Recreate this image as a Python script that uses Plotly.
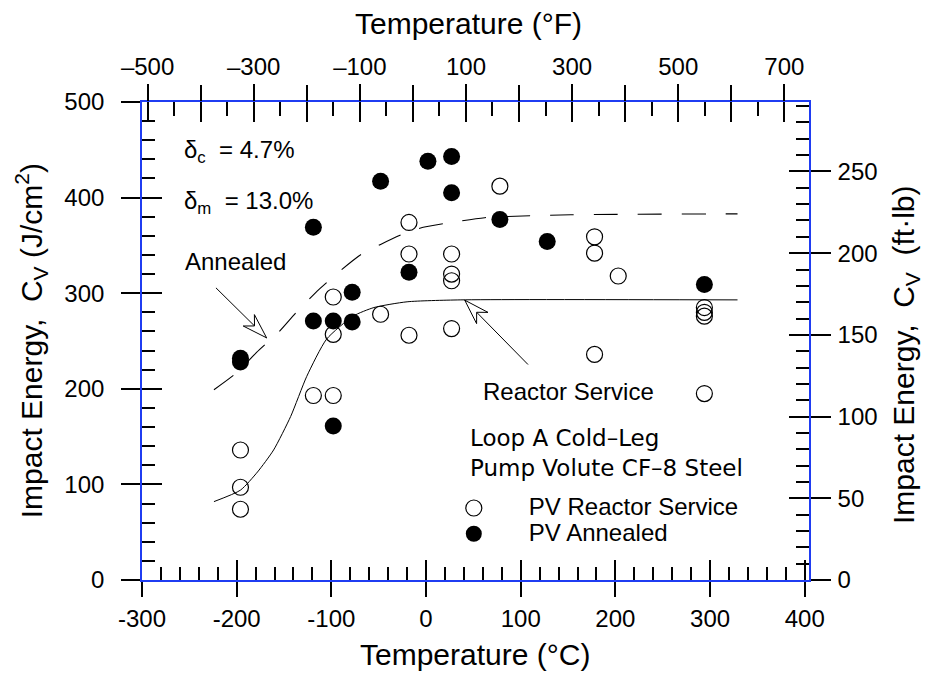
import plotly.graph_objects as go

# ---------------- data ----------------
# PV Reactor Service (open circles)
rs_temp_c = [-196, -196, -196, -119, -98, -98, -98, -48, -18, -18, -18,
             27, 27, 27, 27, 78, 178, 178, 178, 203, 294, 294, 294, 294]
rs_cv = [136, 97, 74, 193, 193, 257, 296, 278, 374, 341, 256,
         341, 320, 313, 263, 412, 359, 342, 236, 318, 285, 280, 276, 195]

# PV Annealed (filled circles)
an_temp_c = [-196, -196, -119, -119, -98, -98, -78, -78, -48, -18, 2, 27, 27, 78, 128, 294]
an_cv = [232, 228, 369, 271, 271, 161, 301, 270, 417, 322, 438, 443, 405, 377, 354, 309]

# Reactor service trend curve (solid)
rs_fit_temp_c = [-224, -196, -178, -161, -143, -126, -105, -77, -55, -20, 36, 329]
rs_fit_cv = [82, 94, 113, 136, 171, 213, 252, 276, 285, 291, 293, 293]

# Annealed trend curve (dashed)
an_fit_temp_c = [-224, -201, -179, -155, -137, -113, -90, -68, -48, -24, -3, 20, 62, 153, 329]
an_fit_cv = [199, 216, 238, 260, 280, 304, 324, 341, 351, 362, 369, 373, 379, 382, 383]

# tick labels
c_tick_vals = [-300, -200, -100, 0, 100, 200, 300, 400]
c_tick_text = ["-300", "-200", "-100", "0", "100", "200", "300", "400"]
f_label_vals = [-500, -300, -100, 100, 300, 500, 700]
f_label_text = ["\u2013500", "\u2013300", "\u2013100", "100", "300", "500", "700"]
f_tick_vals = [-500, -400, -300, -200, -100, 0, 100, 200, 300, 400, 500, 600, 700]
j_tick_vals = [0, 100, 200, 300, 400, 500]
j_tick_text = ["0", "100", "200", "300", "400", "500"]
ft_tick_vals = [0, 50, 100, 150, 200, 250]
ft_tick_text = ["0", "50", "100", "150", "200", "250"]

# ---------------- styling ----------------
C_RANGE = [-300, 404.5]
F_RANGE = [-510.5, 746.5]
J_RANGE = [0, 500]
FT_RANGE = [0, 292.5]

BLUE = "#1f3cf2"
FONT = "Liberation Sans, Arial, Helvetica, sans-serif"
TICKFONT = dict(family=FONT, size=24, color="black")
TW = 1.5

fig = go.Figure()

fig.add_trace(go.Scatter(x=an_fit_temp_c, y=an_fit_cv, mode="lines",
                         line=dict(color="black", width=1.1, dash="24px,20px", shape="spline", smoothing=0.6),
                         showlegend=False, hoverinfo="skip"))
fig.add_trace(go.Scatter(x=rs_fit_temp_c, y=rs_fit_cv, mode="lines",
                         line=dict(color="black", width=1.0, shape="spline", smoothing=0.6),
                         showlegend=False, hoverinfo="skip"))
fig.add_trace(go.Scatter(x=rs_temp_c, y=rs_cv, mode="markers",
                         name="<span style='font-size:24px'>PV Reactor Service</span>",
                         marker=dict(symbol="circle-open", size=16, color="black", line=dict(width=1.2, color="black"))))
fig.add_trace(go.Scatter(x=an_temp_c, y=an_cv, mode="markers",
                         name="<span style='font-size:24px'>PV Annealed</span>",
                         marker=dict(symbol="circle", size=17, color="black", line=dict(width=0))))

# empty traces so every overlay axis gets drawn
for xa, ya in [("x2", "y"), ("x3", "y"), ("x4", "y"), ("x5", "y"), ("x", "y2"), ("x", "y3"), ("x", "y4")]:
    fig.add_trace(go.Scatter(x=[], y=[], xaxis=xa, yaxis=ya, showlegend=False, hoverinfo="skip"))

common = dict(showgrid=False, zeroline=False, tickcolor="black", tickwidth=TW)

fig.update_layout(
    width=933, height=675,
    margin=dict(l=134, r=131.5, t=94.3, b=102.5, pad=0),
    paper_bgcolor="white", plot_bgcolor="white",
    font=dict(family=FONT, color="black"),
    # bottom (deg C) with labels and outer half of major ticks
    xaxis=dict(range=C_RANGE, tickmode="array", tickvals=c_tick_vals, ticktext=c_tick_text,
               ticks="outside", ticklen=15, showline=True, linecolor=BLUE, linewidth=1.6,
               tickfont=TICKFONT, ticklabelstandoff=1, **common),
    # bottom inner ticks
    xaxis3=dict(range=C_RANGE, overlaying="x", anchor="y", side="bottom", tickmode="linear", tick0=-300, dtick=100,
                ticks="inside", ticklen=20, showticklabels=False, showline=False,
                minor=dict(tickmode="linear", tick0=-300, dtick=20, ticks="inside", ticklen=13,
                           tickwidth=TW, tickcolor="black", showgrid=False), **common),
    # top (deg F): labels
    xaxis2=dict(range=F_RANGE, overlaying="x", anchor="y", side="top", tickmode="array", tickvals=f_label_vals,
                ticktext=f_label_text, ticks="outside", ticklen=16, showline=True, linecolor=BLUE, linewidth=1.6,
                tickfont=TICKFONT, ticklabelstandoff=0, **common),
    # top outer ticks at every 100 F
    xaxis5=dict(range=F_RANGE, overlaying="x", anchor="y", side="top", tickmode="array", tickvals=f_tick_vals,
                ticks="outside", ticklen=16, showticklabels=False, showline=False, **common),
    # top inner ticks
    xaxis4=dict(range=F_RANGE, overlaying="x", anchor="y", side="top", tickmode="linear", tick0=-500, dtick=100,
                ticks="inside", ticklen=20, showticklabels=False, showline=False,
                minor=dict(tickmode="linear", tick0=-500, dtick=50, ticks="inside", ticklen=14,
                           tickwidth=TW, tickcolor="black", showgrid=False), **common),
    # left (J/cm2)
    yaxis=dict(range=J_RANGE, tickmode="array", tickvals=j_tick_vals, ticktext=j_tick_text,
               ticks="outside", ticklen=19, showline=True, linecolor=BLUE, linewidth=1.6,
               tickfont=TICKFONT, ticklabelstandoff=12, **common),
    yaxis3=dict(range=J_RANGE, overlaying="y", anchor="x", side="left", tickmode="linear", tick0=0, dtick=100,
                ticks="inside", ticklen=20, showticklabels=False, showline=False,
                minor=dict(tickmode="linear", tick0=0, dtick=20, ticks="inside", ticklen=13,
                           tickwidth=TW, tickcolor="black", showgrid=False), **common),
    # right (ft-lb)
    yaxis2=dict(range=FT_RANGE, overlaying="y", anchor="x", side="right", tickmode="array", tickvals=ft_tick_vals,
                ticktext=ft_tick_text, ticks="outside", ticklen=20, showline=True, linecolor=BLUE, linewidth=1.6,
                tickfont=TICKFONT, ticklabelstandoff=2, **common),
    yaxis4=dict(range=FT_RANGE, overlaying="y", anchor="x", side="right", tickmode="linear", tick0=0, dtick=50,
                ticks="inside", ticklen=20, showticklabels=False, showline=False,
                minor=dict(tickmode="linear", tick0=0, dtick=10, ticks="inside", ticklen=13,
                           tickwidth=TW, tickcolor="black", showgrid=False), **common),
    legend=dict(x=0.415, y=0.188, xanchor="left", yanchor="top", bgcolor="rgba(0,0,0,0)",
                font=dict(family=FONT, size=17.5, color="black"), itemwidth=100,
                tracegroupgap=0, traceorder="normal"),
)

TITLE_FONT = dict(family=FONT, size=30, color="black")
TEXT_FONT = dict(family=FONT, size=24, color="black")
WIDE_FONT = dict(family="DejaVu Sans, Liberation Sans, sans-serif", size=23, color="black")

annotations = [
    dict(text="Temperature (\u00b0C)", xref="paper", yref="paper", x=0.499, y=-0.156,
         xanchor="center", yanchor="middle", showarrow=False, font=TITLE_FONT),
    dict(text="Temperature (\u00b0F)", xref="paper", yref="paper", x=0.49, y=1.164,
         xanchor="center", yanchor="middle", showarrow=False, font=TITLE_FONT),
    dict(text="Impact Energy,  C<sub>V</sub> (J/cm<sup>2</sup>)", xref="paper", yref="paper", x=-0.166, y=0.5,
         xanchor="center", yanchor="middle", textangle=-90, showarrow=False, font=TITLE_FONT),
    dict(text="Impact Energy,  C<sub>V</sub>  (ft\u00b7lb)", xref="paper", yref="paper", x=1.1446, y=0.4716,
         xanchor="center", yanchor="middle", textangle=-90, showarrow=False, font=TITLE_FONT),
    dict(text="\u03b4<sub>c</sub>\u00a0\u00a0= 4.7%", xref="x", yref="y", x=-258, y=448,
         xanchor="left", yanchor="middle", showarrow=False, font=TEXT_FONT),
    dict(text="\u03b4<sub>m</sub>\u00a0\u00a0= 13.0%", xref="x", yref="y", x=-258, y=395,
         xanchor="left", yanchor="middle", showarrow=False, font=TEXT_FONT),
    dict(text="Annealed", xref="x", yref="y", x=-256.4, y=332.8,
         xanchor="left", yanchor="middle", showarrow=False, font=TEXT_FONT),
    dict(text="Reactor Service", xref="x", yref="y", x=58.5, y=197.5,
         xanchor="left", yanchor="middle", showarrow=False, font=TEXT_FONT),
    dict(text="Loop A Cold\u2013Leg", xref="x", yref="y", x=44.4, y=148.7,
         xanchor="left", yanchor="middle", showarrow=False, font=WIDE_FONT),
    dict(text="Pump Volute CF\u20138 Steel", xref="x", yref="y", x=44.4, y=117.4,
         xanchor="left", yanchor="middle", showarrow=False, font=WIDE_FONT),
]
fig.update_layout(annotations=annotations)

# arrow shafts and hollow arrowheads (pixel-sized paths anchored at the arrow tips)
shapes = [
    dict(type="line", xref="x", yref="y", x0=-221.9, y0=305.6, x1=-168.4, y1=253.3,
         line=dict(color="black", width=1)),
    dict(type="line", xref="x", yref="y", x0=107.7, y0=225.4, x1=40.9, y1=292.7,
         line=dict(color="black", width=1)),
    dict(type="path", xref="x", yref="y", xsizemode="pixel", ysizemode="pixel", xanchor=-168.4, yanchor=253.3,
         path="M0,0 L-23.4,11.85 L-12.1,11.9 L-12.2,23.25 Z", fillcolor="white",
         line=dict(color="black", width=1)),
    dict(type="path", xref="x", yref="y", xsizemode="pixel", ysizemode="pixel", xanchor=40.9, yanchor=292.7,
         path="M0,0 L23.25,-12.2 L11.9,-12.1 L11.85,-23.45 Z", fillcolor="white",
         line=dict(color="black", width=1)),
]
fig.update_layout(shapes=shapes)

fig.write_html("out.html")
